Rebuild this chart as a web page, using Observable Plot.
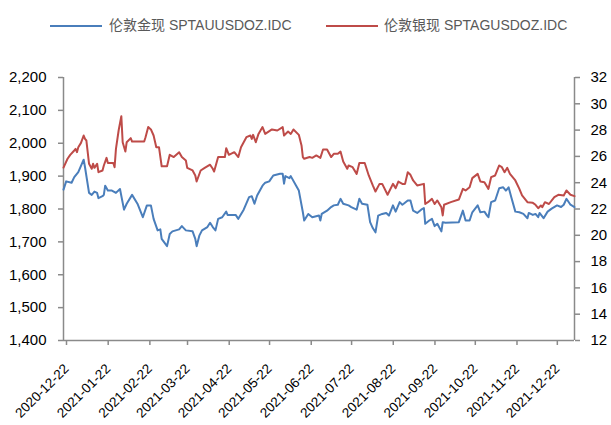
<!DOCTYPE html>
<html><head><meta charset="utf-8">
<script src="https://cdn.jsdelivr.net/npm/d3@7"></script>
<script src="https://cdn.jsdelivr.net/npm/@observablehq/plot@0.6"></script>
<style>
body{margin:0;background:#fff;width:611px;height:425px;overflow:hidden;font-family:"Liberation Sans",Arial,"Noto Sans CJK SC",sans-serif;}
#legend{position:relative;height:44px;}
.sw{position:absolute;top:25px;height:2px;width:52px;}
.lt{position:absolute;top:16px;font-size:14px;line-height:18px;color:#595959;white-space:nowrap;}
#chart svg{display:block;}
</style></head><body>
<div id="legend">
  <div class="sw" style="left:50px;background:#4A7EBB"></div>
  <div class="lt" style="left:109px">伦敦金现 SPTAUUSDOZ.IDC</div>
  <div class="sw" style="left:326px;background:#BE4B48"></div>
  <div class="lt" style="left:384px">伦敦银现 SPTAGUSDOZ.IDC</div>
</div>
<div id="chart"></div>
<script>
const goldDates = ["2020-12-22","2020-12-24","2020-12-28","2020-12-30","2021-01-02","2021-01-06","2021-01-07","2021-01-10","2021-01-12","2021-01-14","2021-01-16","2021-01-17","2021-01-20","2021-01-21","2021-01-22","2021-01-24","2021-01-27","2021-01-30","2021-02-02","2021-02-05","2021-02-07","2021-02-11","2021-02-15","2021-02-19","2021-02-22","2021-02-25","2021-02-27","2021-03-02","2021-03-04","2021-03-05","2021-03-09","2021-03-11","2021-03-13","2021-03-18","2021-03-20","2021-03-23","2021-03-28","2021-03-30","2021-03-31","2021-04-02","2021-04-04","2021-04-08","2021-04-10","2021-04-12","2021-04-14","2021-04-16","2021-04-19","2021-04-22","2021-04-23","2021-04-29","2021-05-01","2021-05-05","2021-05-09","2021-05-11","2021-05-13","2021-05-15","2021-05-19","2021-05-21","2021-05-24","2021-05-25","2021-05-27","2021-06-01","2021-06-03","2021-06-04","2021-06-05","2021-06-08","2021-06-09","2021-06-13","2021-06-15","2021-06-18","2021-06-19","2021-06-22","2021-06-25","2021-06-30","2021-07-01","2021-07-02","2021-07-06","2021-07-09","2021-07-11","2021-07-14","2021-07-16","2021-07-18","2021-07-22","2021-07-24","2021-07-28","2021-07-30","2021-08-01","2021-08-05","2021-08-07","2021-08-09","2021-08-11","2021-08-13","2021-08-16","2021-08-19","2021-08-21","2021-08-24","2021-08-26","2021-08-29","2021-08-31","2021-09-01","2021-09-04","2021-09-06","2021-09-08","2021-09-11","2021-09-14","2021-09-16","2021-09-17","2021-09-20","2021-09-22","2021-09-24","2021-09-26","2021-09-29","2021-09-30","2021-10-02","2021-10-12","2021-10-15","2021-10-17","2021-10-20","2021-10-22","2021-10-26","2021-10-28","2021-10-31","2021-11-02","2021-11-03","2021-11-05","2021-11-08","2021-11-11","2021-11-14","2021-11-16","2021-11-18","2021-11-20","2021-11-23","2021-11-26","2021-11-29","2021-12-02","2021-12-03","2021-12-06","2021-12-08","2021-12-10","2021-12-11","2021-12-14","2021-12-17","2021-12-20","2021-12-24","2021-12-27","2021-12-29","2021-12-31","2022-01-03","2022-01-06"];
const goldPrices = [1859,1884,1880,1897,1912,1950,1927,1849,1843,1853,1849,1833,1839,1843,1871,1856,1856,1849,1861,1798,1816,1843,1816,1775,1811,1811,1770,1735,1738,1709,1687,1724,1732,1738,1748,1735,1732,1709,1687,1719,1735,1745,1758,1745,1735,1770,1775,1792,1782,1782,1770,1798,1836,1839,1816,1841,1871,1880,1884,1890,1902,1907,1907,1877,1900,1894,1900,1871,1856,1790,1765,1785,1775,1780,1765,1785,1795,1806,1811,1813,1831,1816,1811,1806,1798,1831,1816,1813,1760,1742,1729,1780,1785,1788,1780,1811,1792,1821,1813,1816,1826,1826,1795,1788,1798,1803,1755,1765,1770,1748,1755,1732,1760,1758,1760,1795,1765,1765,1790,1811,1790,1792,1780,1775,1821,1826,1863,1866,1856,1866,1836,1792,1790,1785,1772,1788,1782,1785,1775,1788,1772,1792,1801,1811,1806,1813,1831,1813,1806];

const silverDates = ["2020-12-22","2020-12-25","2020-12-27","2020-12-30","2020-12-31","2021-01-01","2021-01-02","2021-01-04","2021-01-06","2021-01-07","2021-01-08","2021-01-10","2021-01-12","2021-01-13","2021-01-14","2021-01-16","2021-01-17","2021-01-20","2021-01-21","2021-01-23","2021-01-24","2021-01-28","2021-01-29","2021-01-30","2021-02-01","2021-02-03","2021-02-04","2021-02-06","2021-02-07","2021-02-10","2021-02-11","2021-02-20","2021-02-21","2021-02-23","2021-02-25","2021-02-27","2021-03-01","2021-03-03","2021-03-05","2021-03-09","2021-03-11","2021-03-14","2021-03-18","2021-03-20","2021-03-23","2021-03-24","2021-03-28","2021-03-30","2021-03-31","2021-04-03","2021-04-06","2021-04-10","2021-04-12","2021-04-13","2021-04-16","2021-04-21","2021-04-22","2021-04-24","2021-04-28","2021-05-01","2021-05-03","2021-05-07","2021-05-10","2021-05-11","2021-05-12","2021-05-14","2021-05-16","2021-05-19","2021-05-21","2021-05-26","2021-05-30","2021-06-03","2021-06-04","2021-06-07","2021-06-09","2021-06-11","2021-06-15","2021-06-17","2021-06-18","2021-06-19","2021-06-23","2021-06-25","2021-06-28","2021-07-01","2021-07-03","2021-07-06","2021-07-09","2021-07-11","2021-07-14","2021-07-16","2021-07-18","2021-07-21","2021-07-22","2021-07-25","2021-07-28","2021-07-30","2021-08-03","2021-08-06","2021-08-09","2021-08-11","2021-08-14","2021-08-16","2021-08-20","2021-08-24","2021-08-26","2021-08-28","2021-08-31","2021-09-02","2021-09-04","2021-09-06","2021-09-08","2021-09-11","2021-09-16","2021-09-17","2021-09-19","2021-09-22","2021-09-24","2021-09-26","2021-09-29","2021-09-30","2021-10-01","2021-10-06","2021-10-12","2021-10-15","2021-10-17","2021-10-20","2021-10-22","2021-10-26","2021-10-28","2021-10-31","2021-11-03","2021-11-05","2021-11-08","2021-11-11","2021-11-13","2021-11-15","2021-11-17","2021-11-19","2021-11-23","2021-11-26","2021-11-28","2021-12-02","2021-12-06","2021-12-08","2021-12-10","2021-12-12","2021-12-13","2021-12-15","2021-12-18","2021-12-22","2021-12-25","2021-12-29","2021-12-31","2022-01-03","2022-01-06"];
const silverPrices = [25.15,25.82,26.12,26.45,26.57,26.32,26.70,27.03,27.59,27.33,27.21,25.44,25.06,25.44,25.13,25.44,24.80,24.93,25.31,25.89,25.50,25.50,25.18,26.57,27.97,29.06,27.08,26.37,27.08,27.39,27.13,27.13,27.46,28.23,28.05,27.59,26.70,26.70,25.25,25.25,26.12,25.95,26.32,25.95,25.69,25.13,24.93,24.55,24.09,24.93,25.13,25.37,25.06,24.85,25.95,25.95,26.62,26.12,26.32,25.95,26.70,27.46,27.59,27.33,27.64,27.08,27.71,28.23,27.71,28.05,27.97,28.23,27.59,27.89,27.71,28.05,27.64,26.83,25.95,25.82,25.95,25.89,26.07,25.89,26.52,26.52,25.95,26.20,26.20,26.37,25.61,25.06,25.31,25.18,24.67,25.50,25.50,24.55,23.79,23.33,23.91,23.91,23.08,23.91,23.59,24.09,23.91,23.91,24.80,24.60,24.17,23.79,23.91,22.38,22.52,22.77,22.38,22.65,22.14,21.51,22.32,22.52,22.72,23.53,23.41,23.66,24.35,24.67,24.09,24.04,23.53,24.42,24.55,25.31,25.18,24.80,25.13,24.67,24.17,23.53,23.03,22.52,22.47,22.32,22.06,22.27,22.14,22.52,22.38,22.90,23.08,23.03,23.41,23.08,22.98];

const xTickLabels = ["2020-12-22","2021-01-22","2021-02-22","2021-03-22","2021-04-22","2021-05-22","2021-06-22","2021-07-22","2021-08-22","2021-09-22","2021-10-22","2021-11-22","2021-12-22"];
const goldTicks = [1400,1500,1600,1700,1800,1900,2000,2100,2200];
const silverTicks = [12,14,16,18,20,22,24,26,28,30,32];
const xDomain = ["2020-12-22","2022-01-06"];

const parse = d3.utcParse("%Y-%m-%d");
const gold = goldDates.map((d,i)=>({date:parse(d), value:goldPrices[i]}));
const silver = silverDates.map((d,i)=>({date:parse(d), value:silverPrices[i]}));
// map silver (12..32) onto the gold scale (1400..2200)
const toGold = s => 1400 + (s - 12) * 40;
const fromGold = g => (g - 1400) / 40 + 12;
const x0 = parse(xDomain[0]), x1 = parse(xDomain[1]);
const axisGray = "#8a8a8a";

const chart = Plot.plot({
  width: 611,
  height: 381,
  marginTop: 33,
  marginBottom: 85,
  marginLeft: 63,
  marginRight: 37,
  style: {fontFamily: '"Liberation Sans", Arial, sans-serif', background: "#fff", color: "#000"},
  x: {type: "utc", domain: [x0, x1]},
  y: {domain: [1400, 2200]},
  marks: [
    Plot.axisY({anchor: "left", ticks: goldTicks, tickFormat: d3.format(","), tickSize: 5, tickPadding: 12, fontSize: 15, stroke: axisGray, strokeWidth: 1.5, fill: "#000", label: null}),
    Plot.axisY({anchor: "right", ticks: silverTicks.map(toGold), tickFormat: d => String(Math.round(fromGold(d))), tickSize: 5, tickPadding: 11, fontSize: 15, stroke: axisGray, strokeWidth: 1.5, fill: "#000", label: null}),
    Plot.axisX({ticks: xTickLabels.map(parse), tickFormat: d3.utcFormat("%Y-%m-%d"), tickRotate: -45, tickSize: 5, tickPadding: 21, dx: 3, fontSize: 13.5, stroke: axisGray, strokeWidth: 1.5, fill: "#000", label: null}),
    Plot.ruleY([1400], {stroke: axisGray, strokeWidth: 1.5}),
    Plot.ruleX([x0], {y1: 1400, y2: 2200, stroke: axisGray, strokeWidth: 1.5}),
    Plot.ruleX([x1], {y1: 1400, y2: 2200, stroke: axisGray, strokeWidth: 1.5}),
    Plot.lineY(gold, {x: "date", y: "value", stroke: "#4A7EBB", strokeWidth: 2}),
    Plot.lineY(silver, {x: "date", y: d => toGold(d.value), stroke: "#BE4B48", strokeWidth: 2})
  ]
});
document.getElementById("chart").appendChild(chart);
</script>
</body></html>
